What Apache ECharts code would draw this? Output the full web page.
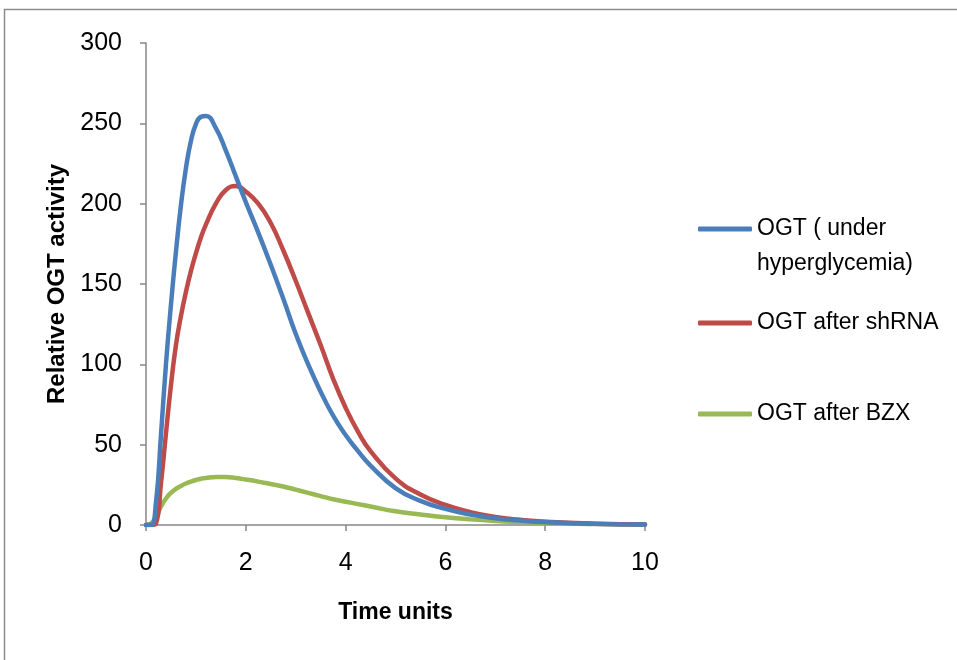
<!DOCTYPE html>
<html>
<head>
<meta charset="utf-8">
<script src="https://cdn.jsdelivr.net/npm/echarts@6/dist/echarts.min.js"></script>
<style>
  html, body { margin: 0; padding: 0; background: #ffffff; }
  #chart { width: 957px; height: 660px; }
</style>
</head>
<body>
<div id="chart"></div>
<script>
// Sample times (time units)
var timeUnits = [0, 0.1, 0.2, 0.3, 0.4, 0.5, 0.6, 0.7, 0.8, 0.9, 1.0, 1.1, 1.2, 1.4, 1.6, 1.8, 2.0, 2.25, 2.5, 2.75, 3.0, 3.25, 3.5, 3.75, 4.0, 4.25, 4.5, 5.0, 5.5, 6.0, 6.5, 7.0, 7.5, 8.0, 9.0, 10.0];

// Relative OGT activity for each condition
var ogtHyperglycemia = [0, 0, 14, 56, 100, 137, 170, 199, 222, 239, 249.5, 254, 254.5, 247, 233, 217, 201, 182, 162, 141, 119, 100, 83, 68, 56, 46, 37, 23, 15, 10, 6.5, 4.2, 2.8, 1.8, 0.7, 0.3];
var ogtShRNA = [0, 0, 1, 26, 57, 87, 112, 130, 145, 158, 169, 179, 187, 200, 208.5, 211, 207.5, 200, 188, 171, 152, 132, 112, 91, 73, 58, 46, 29, 19, 12.5, 8, 5, 3.2, 2, 0.8, 0.3];
var ogtBZX = [0, 1, 5, 11.5, 16.5, 20, 22.5, 24.3, 25.8, 27, 28, 28.8, 29.3, 29.8, 29.8, 29.2, 28.3, 27, 25.5, 24, 22, 20, 18, 16, 14.5, 13, 11.5, 8.5, 6.5, 4.8, 3.5, 2.5, 1.8, 1.2, 0.6, 0.3];

var seriesNames = ['OGT ( under hyperglycemia)', 'OGT after shRNA', 'OGT after BZX'];
var seriesColors = ['#4a7ebb', '#be4b48', '#98b954'];
var seriesValues = [ogtHyperglycemia, ogtShRNA, ogtBZX];

var xTicks = { min: 0, max: 10, interval: 2 };
var yTicks = { min: 0, max: 300, interval: 50 };

function pairs(values) {
  return timeUnits.map(function (t, i) { return [t, values[i]]; });
}

var FONT = 'Liberation Sans, Arial, sans-serif';
var axisGray = '#868686';

var chart = echarts.init(document.getElementById('chart'), null, { renderer: 'canvas' });

// One legend block per series so each entry can sit at its own height
var legendTops = [206, 300, 391];
var legends = seriesNames.map(function (name, i) {
  return {
    orient: 'vertical',
    left: 693,
    top: legendTops[i],
    data: [name],
    icon: 'roundRect',
    itemWidth: 54,
    itemHeight: 5,
    itemGap: 0,
    selectedMode: false,
    formatter: i === 0 ? function () { return 'OGT ( under'; } : undefined,
    textStyle: { fontFamily: FONT, fontSize: 23, color: '#000000', lineHeight: 36 }
  };
});

var option = {
  backgroundColor: '#ffffff',
  animation: false,
  grid: { left: 146, right: 312, top: 43, bottom: 135, containLabel: false },
  legend: legends,
  xAxis: {
    type: 'value',
    min: xTicks.min,
    max: xTicks.max,
    interval: xTicks.interval,
    name: 'Time units',
    nameLocation: 'middle',
    nameGap: 76,
    nameTextStyle: { fontFamily: FONT, fontSize: 23, fontWeight: 'bold', color: '#000000' },
    axisLine: { show: true, lineStyle: { color: axisGray, width: 1.5 } },
    axisTick: { show: true, length: 6, lineStyle: { color: axisGray, width: 1.5 } },
    axisLabel: { fontFamily: FONT, fontSize: 25, color: '#000000', margin: 26 },
    splitLine: { show: false }
  },
  yAxis: {
    type: 'value',
    min: yTicks.min,
    max: yTicks.max,
    interval: yTicks.interval,
    name: 'Relative OGT activity',
    nameLocation: 'middle',
    nameGap: 71,
    nameTextStyle: { fontFamily: FONT, fontSize: 24, fontWeight: 'bold', color: '#000000' },
    axisLine: { show: true, lineStyle: { color: axisGray, width: 1.5 } },
    axisTick: { show: true, length: 6, lineStyle: { color: axisGray, width: 1.5 } },
    axisLabel: { fontFamily: FONT, fontSize: 25, color: '#000000', margin: 24 },
    splitLine: { show: false }
  },
  series: seriesNames.map(function (name, i) {
    return {
      name: name,
      type: 'line',
      data: pairs(seriesValues[i]),
      smooth: 0.5,
      showSymbol: false,
      symbol: 'none',
      color: seriesColors[i],
      lineStyle: { color: seriesColors[i], width: 4.5, cap: 'round', join: 'round' },
      z: 3 - i
    };
  }),
  graphic: [
    {
      // outer frame: left and top edges
      type: 'polyline',
      silent: true,
      shape: { points: [[4.5, 660], [4.5, 9.5], [957, 9.5]] },
      style: { stroke: '#8c8c8c', lineWidth: 1.5, fill: null }
    },
    {
      // second line of the first legend entry
      type: 'text',
      silent: true,
      left: 757,
      top: 252,
      style: { text: 'hyperglycemia)', font: '23px ' + FONT, fill: '#000000' }
    }
  ]
};

chart.setOption(option);
</script>
</body>
</html>
